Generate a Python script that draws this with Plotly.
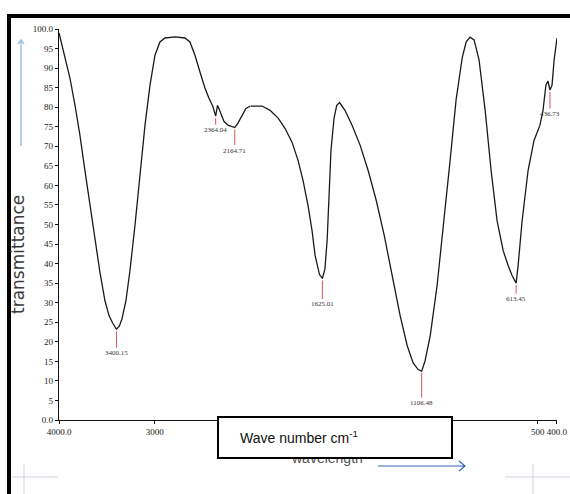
import plotly.graph_objects as go

# FTIR spectrum: wavenumber (cm-1) vs transmittance (%)
wavenumber = [
    4000, 3969, 3927, 3885, 3833, 3781, 3729, 3676, 3624, 3572, 3520, 3478, 3440,
    3400.15, 3370, 3342, 3301, 3259, 3207, 3154, 3102, 3050, 2998, 2946, 2894,
    2789, 2685, 2633, 2580, 2528, 2476, 2434, 2395, 2364.04, 2345, 2315, 2278,
    2236, 2200, 2164.71, 2130, 2090, 2048, 2000,
    1977, 1940, 1898, 1856, 1820, 1783, 1752, 1726, 1700, 1679, 1663, 1653, 1640,
    1625.01, 1612, 1600, 1590, 1580, 1564, 1550, 1535, 1507, 1470, 1428, 1386,
    1344, 1302, 1261, 1219, 1182, 1151, 1125, 1106.48, 1089, 1062, 1026, 989, 958,
    927, 895, 874, 854, 833, 807, 775, 744, 713, 681, 655, 634, 613.45, 603, 582,
    551, 520, 489, 473, 458, 447, 436.73, 426, 415, 400,
]
transmittance = [
    99.0, 95.9, 92.1, 87.4, 80.5, 72.8, 63.8, 54.9, 45.9, 37.7, 30.5, 26.7, 24.8,
    23.2, 24.0, 25.9, 30.5, 38.2, 49.7, 62.6, 75.4, 85.6, 93.3, 96.7, 97.7,
    98.0, 97.7, 96.7, 93.3, 89.0, 84.9, 82.3, 80.3, 77.7, 80.5, 78.7, 76.4,
    75.4, 75.1, 74.8, 76.0, 77.8, 79.7, 80.3,
    80.3, 80.3, 79.2, 77.2, 74.6, 71.0, 66.4, 61.3, 54.9, 48.5, 42.1, 40.0, 37.2,
    36.2, 38.5, 46.0, 57.0, 69.0, 77.2, 80.5, 81.2, 79.2, 75.4, 70.3, 63.8,
    56.2, 47.2, 36.9, 26.7, 19.0, 14.6, 12.9, 12.5, 15.1, 21.5, 34.4, 51.0, 66.4,
    81.8, 92.6, 96.7, 97.9, 97.2, 92.1, 79.2, 63.8, 51.0, 43.3, 39.5, 36.9, 35.0, 39.5, 51.0,
    63.8, 71.5, 75.4, 79.2, 85.6, 86.7, 84.4, 85.6, 92.1, 97.7,
]

# marked bands
peak_wn = [3400.15, 2364.04, 2164.71, 1625.01, 1106.48, 613.45, 436.73]
peak_text = ["3400.15", "2364.04", "2164.71", "1625.01", "1106.48", "613.45", "436.73"]
# how far (px) each band label hangs below its band
label_drop = [24, 14, 23, 26, 32, 16, 24]

y_ticks = list(range(0, 101, 5))
y_ticktext = ["0.0"] + [str(v) for v in y_ticks[1:-1]] + ["100.0"]

W, H = 570, 494
L, R, T, B = 59, 13, 29, 74
PW, PH = W - L - R, H - T - B
BREAK = 2000  # scale doubles below 2000 cm-1
split = (4000 - BREAK) / ((4000 - BREAK) + 2 * (BREAK - 400))


def px(x):
    return (x - L) / PW


def py(y):
    return (H - B - y) / PH


hi = [(w, t) for w, t in zip(wavenumber, transmittance) if w >= BREAK]
lo = [(w, t) for w, t in zip(wavenumber, transmittance) if w <= BREAK]

line = dict(color="#1a1a1a", width=1.3)
fig = go.Figure()
fig.add_trace(go.Scatter(x=[p[0] for p in hi], y=[p[1] for p in hi], mode="lines",
                         line=line, xaxis="x", yaxis="y", showlegend=False))
fig.add_trace(go.Scatter(x=[p[0] for p in lo], y=[p[1] for p in lo], mode="lines",
                         line=line, xaxis="x2", yaxis="y", showlegend=False))

tickfont = dict(family="Liberation Serif", size=9, color="#222")
axis_common = dict(showgrid=False, zeroline=False, showline=True, linecolor="#111",
                   linewidth=1.2, ticks="outside", ticklen=3, tickcolor="#111",
                   tickfont=tickfont, tickangle=0, automargin=False)
fig.update_layout(
    width=W, height=H,
    margin=dict(l=L, r=R, t=T, b=B, autoexpand=False),
    paper_bgcolor="white", plot_bgcolor="white",
    xaxis=dict(domain=[0, split], range=[4000, BREAK], tickmode="array",
               tickvals=[4000, 3000], ticktext=["4000.0", "3000"], anchor="y",
               **axis_common),
    xaxis2=dict(domain=[split, 1], range=[BREAK, 400], tickmode="array",
                tickvals=[500, 400], ticktext=["500", "400.0"], anchor="y",
                **axis_common),
    yaxis=dict(range=[0, 100], tickmode="array", tickvals=y_ticks,
               ticktext=y_ticktext, anchor="x", **axis_common),
)

annotations = []
lookup = dict(zip(wavenumber, transmittance))
for wn, txt, drop in zip(peak_wn, peak_text, label_drop):
    annotations.append(dict(
        x=wn, y=lookup[wn], xref="x" if wn >= BREAK else "x2", yref="y",
        text=txt, showarrow=True, arrowhead=0, arrowwidth=1, arrowcolor="#e0505a",
        ax=0, ay=drop, standoff=2,
        font=dict(family="Liberation Serif", size=7, color="#333"),
    ))

# axis titles
annotations.append(dict(
    x=px(18), y=py(255), xref="paper", yref="paper", text="transmittance",
    textangle=-90, showarrow=False, xanchor="center", yanchor="middle",
    font=dict(family="DejaVu Sans", size=17, color="#3a3a3a"),
))
annotations.append(dict(
    x=px(327), y=py(458), xref="paper", yref="paper", text="wavelength",
    showarrow=False, xanchor="center", yanchor="middle",
    font=dict(family="Liberation Sans", size=14, color="#555"),
))
# caption box
annotations.append(dict(
    x=px(217), y=py(416), xref="paper", yref="paper", text=" ",
    showarrow=False, xanchor="left", yanchor="top", width=232, height=39,
    bgcolor="white", bordercolor="#000", borderwidth=2, borderpad=0,
))
annotations.append(dict(
    x=px(238), y=py(437), xref="paper", yref="paper",
    text="Wave number cm<sup>-1</sup>", showarrow=False,
    xanchor="left", yanchor="middle",
    font=dict(family="Liberation Sans", size=14, color="#111"),
))

shapes = []
# frame edges
shapes.append(dict(type="rect", xref="paper", yref="paper", x0=px(7), x1=px(571),
                   y0=py(14), y1=py(18), fillcolor="black", line=dict(width=0)))
shapes.append(dict(type="rect", xref="paper", yref="paper", x0=px(7), x1=px(11),
                   y0=py(14), y1=py(495), fillcolor="black", line=dict(width=0)))
# direction arrows
blue = "#3465b8"
shapes.append(dict(type="path", xref="paper", yref="paper",
                   path=f"M {px(378)},{py(466)} L {px(465)},{py(466)} "
                        f"M {px(459)},{py(461)} L {px(465)},{py(466)} L {px(459)},{py(471)}",
                   line=dict(color=blue, width=1.2)))
shapes.append(dict(type="path", xref="paper", yref="paper",
                   path=f"M {px(21)},{py(146)} L {px(21)},{py(40)} "
                        f"M {px(18)},{py(44)} L {px(21)},{py(40)} L {px(24)},{py(44)}",
                   line=dict(color="#9ec0e6", width=1.5)))
# faint guide lines near the bottom
faint = "#cdd3de"
for x0, y0, x1, y1 in [(11, 477, 58, 477), (24, 464, 24, 494),
                       (505, 477, 570, 477), (533, 464, 533, 494)]:
    shapes.append(dict(type="line", xref="paper", yref="paper", x0=px(x0), y0=py(y0),
                       x1=px(x1), y1=py(y1), line=dict(color=faint, width=1)))

fig.update_layout(annotations=annotations, shapes=shapes)
fig.write_html("out.html")
